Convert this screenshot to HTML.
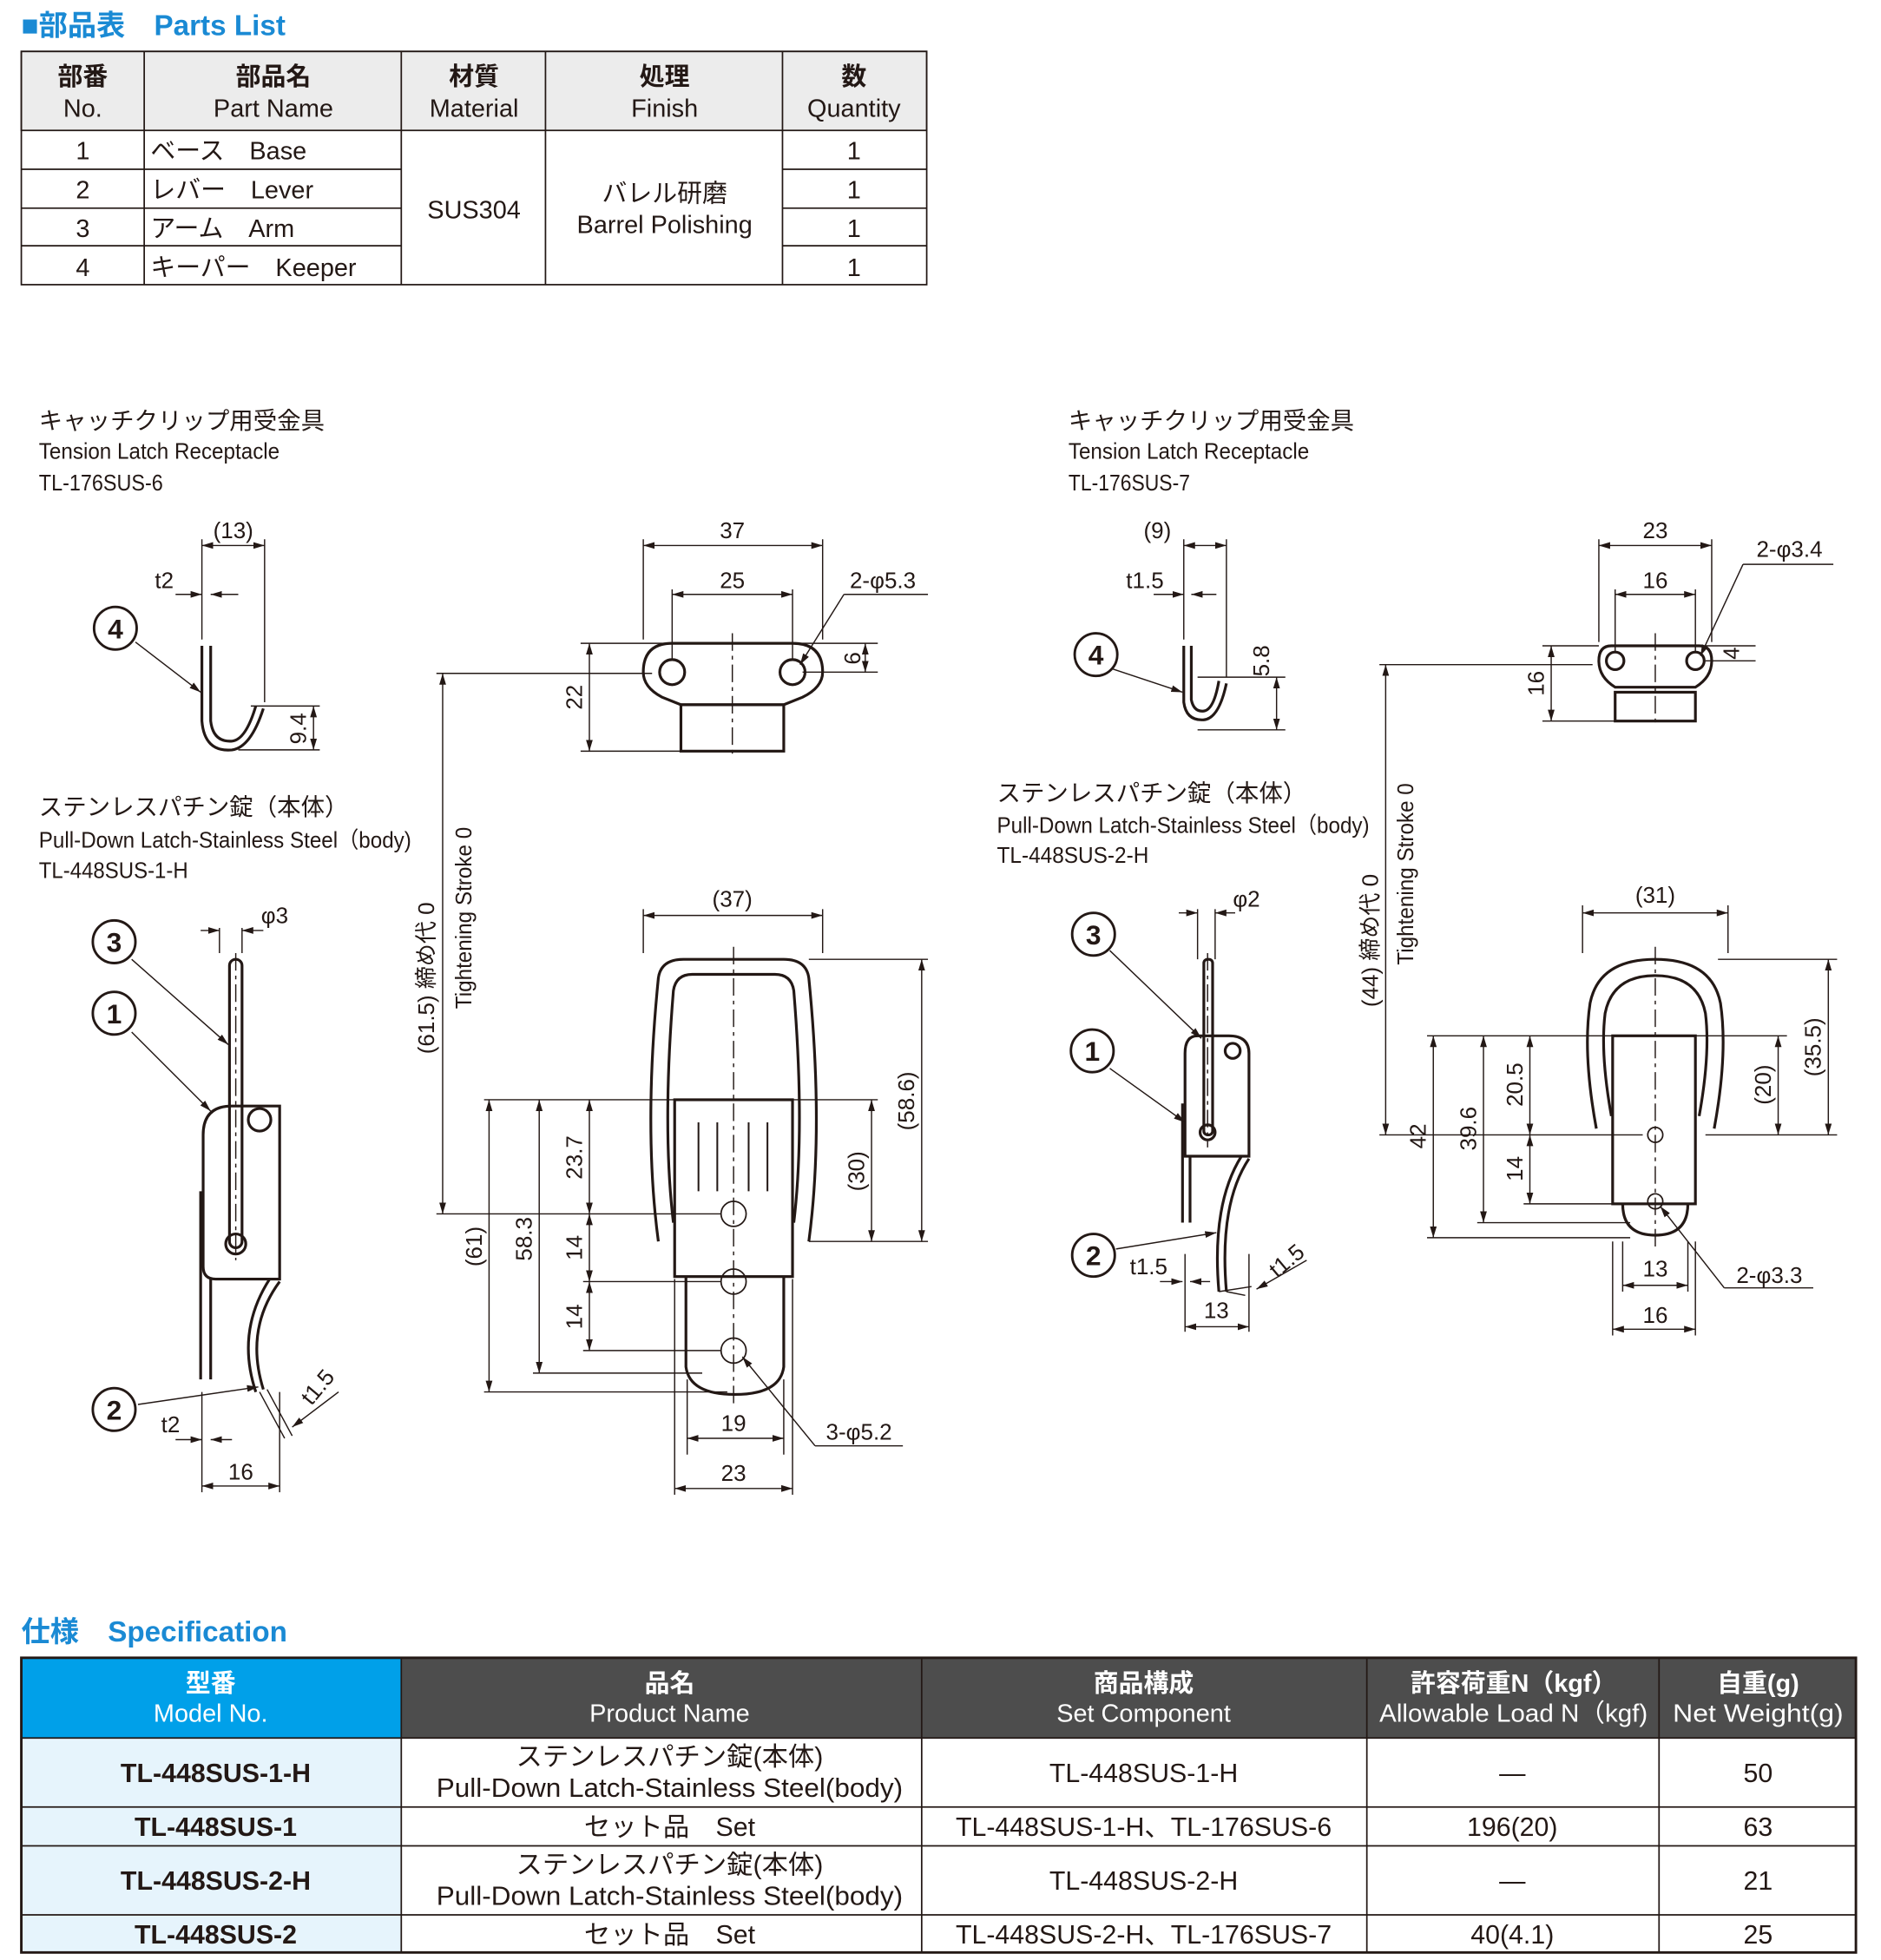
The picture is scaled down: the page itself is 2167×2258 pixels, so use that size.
<!DOCTYPE html>
<html><head><meta charset="utf-8">
<style>
html,body{margin:0;padding:0;background:#fff;}
svg{display:block;}
text{font-family:"Liberation Sans","Noto Sans CJK JP",sans-serif;fill:#231815;}
</style></head>
<body>
<svg width="2167" height="2258" viewBox="0 0 1500 1563" xmlns="http://www.w3.org/2000/svg">
<defs>
<marker id="a" viewBox="0 0 10 10" refX="10" refY="5" markerWidth="9" markerHeight="9" orient="auto-start-reverse" markerUnits="userSpaceOnUse"><path d="M0,2 L10,5 L0,8z" fill="#231815"/></marker>
</defs>
<text x="17" y="28" font-size="23" font-weight="bold" style="fill:#1a8ad4">■部品表　Parts List</text>
<g stroke="#231815" stroke-width="1.2" fill="none">
<rect x="17" y="41" width="722" height="63" fill="#ececec"/>
<rect x="17" y="41" width="722" height="186"/>
<line x1="115" y1="41" x2="115" y2="227"/><line x1="320" y1="41" x2="320" y2="227"/>
<line x1="435" y1="41" x2="435" y2="227"/><line x1="624" y1="41" x2="624" y2="227"/>
<line x1="17" y1="135" x2="320" y2="135"/><line x1="17" y1="166" x2="320" y2="166"/><line x1="17" y1="196" x2="320" y2="196"/>
<line x1="624" y1="135" x2="739" y2="135"/><line x1="624" y1="166" x2="739" y2="166"/><line x1="624" y1="196" x2="739" y2="196"/>
</g>
<g font-size="20" text-anchor="middle">
<text x="66" y="68" font-weight="bold">部番</text><text x="66" y="93">No.</text>
<text x="218" y="68" font-weight="bold">部品名</text><text x="218" y="93">Part Name</text>
<text x="378" y="68" font-weight="bold">材質</text><text x="378" y="93">Material</text>
<text x="530" y="68" font-weight="bold">処理</text><text x="530" y="93">Finish</text>
<text x="681" y="68" font-weight="bold">数</text><text x="681" y="93">Quantity</text>
<text x="66" y="127">1</text><text x="66" y="158">2</text><text x="66" y="189">3</text><text x="66" y="220">4</text>
<text x="681" y="127">1</text><text x="681" y="158">1</text><text x="681" y="189">1</text><text x="681" y="220">1</text>
<text x="378" y="174">SUS304</text>
<text x="530" y="161">バレル研磨</text><text x="530" y="186">Barrel Polishing</text>
</g>
<g font-size="20">
<text x="120" y="127">ベース　Base</text><text x="120" y="158">レバー　Lever</text>
<text x="120" y="189">アーム　Arm</text><text x="120" y="220">キーパー　Keeper</text>
</g>

<g font-size="19">
<text x="31" y="342">キャッチクリップ用受金具</text><text x="31" y="366" font-size="18" textLength="192" lengthAdjust="spacingAndGlyphs">Tension Latch Receptacle</text><text x="31" y="391" font-size="18" textLength="99" lengthAdjust="spacingAndGlyphs">TL-176SUS-6</text>
<text x="852" y="342">キャッチクリップ用受金具</text><text x="852" y="366" font-size="18" textLength="192" lengthAdjust="spacingAndGlyphs">Tension Latch Receptacle</text><text x="852" y="391" font-size="18" textLength="97" lengthAdjust="spacingAndGlyphs">TL-176SUS-7</text>
<text x="31" y="650">ステンレスパチン錠（本体）</text><text x="31" y="676" font-size="18" textLength="297" lengthAdjust="spacingAndGlyphs">Pull-Down Latch-Stainless Steel（body)</text><text x="31" y="700" font-size="18" textLength="119" lengthAdjust="spacingAndGlyphs">TL-448SUS-1-H</text>
<text x="795" y="639">ステンレスパチン錠（本体）</text><text x="795" y="664" font-size="18" textLength="297" lengthAdjust="spacingAndGlyphs">Pull-Down Latch-Stainless Steel（body)</text><text x="795" y="688" font-size="18" textLength="121" lengthAdjust="spacingAndGlyphs">TL-448SUS-2-H</text>
</g>

<g stroke="#231815" fill="none" stroke-width="2.2">
<path d="M161,515 L161,575 Q163,600 185,598 Q200,596 210,565 M168,515 L168,575 Q170,592 185,591 Q196,590 204,563"/>
<path d="M536,513 L632,513 Q656,513 656,536 Q656,548 640,556 L625,562 L543,562 L528,556 Q513,548 513,536 Q513,513 536,513Z"/>
<circle cx="536" cy="536" r="10"/><circle cx="632" cy="536" r="10"/>
<rect x="543" y="562" width="82" height="37"/>
<rect x="183" y="765" width="10" height="230" rx="5"/>
<path d="M223,882 L223,1020 L172,1020 Q162,1020 162,1010 L162,905 Q162,882 185,882 Z"/>
<path d="M160,950 L160,1100 M168,1020 L168,1100"/>
<circle cx="207" cy="893" r="9"/><circle cx="188" cy="992" r="8"/>
<path d="M223,1022 Q195,1060 210,1108 M215,1020 Q188,1062 204,1110"/>
<path d="M525,990 Q513,900 525,780 Q527,765 545,765 L625,765 Q643,765 645,780 Q657,900 645,990"/>
<path d="M537,975 Q528,900 537,790 Q539,777 552,777 L618,777 Q631,777 633,790 Q642,900 633,975"/>
<rect x="538" y="877" width="94" height="141"/>
<path d="M547,1018 L547,1090 Q550,1112 586,1112 Q622,1112 625,1090 L625,1018"/>
<circle cx="585" cy="968" r="10" stroke-width="1.2"/><circle cx="585" cy="1022" r="10" stroke-width="1.2"/><circle cx="585" cy="1077" r="10" stroke-width="1.2"/>
<path d="M557,895 L557,950 M572,895 L572,950 M597,895 L597,950 M612,895 L612,950" stroke-width="1.4"/>
<path d="M944,515 L944,560 Q946,575 960,574 Q972,573 978,545 M950,515 L950,558 Q952,568 960,567 Q968,566 972,543"/>
<path d="M1285,515 L1355,515 Q1365,515 1365,527 Q1365,540 1352,548 L1288,548 Q1275,540 1275,527 Q1275,515 1285,515Z"/>
<circle cx="1288" cy="527" r="7"/><circle cx="1352" cy="527" r="7"/>
<rect x="1288" y="552" width="64" height="23"/>
<rect x="960" y="765" width="7" height="140" rx="3"/>
<path d="M996,922 L996,840 Q996,826 980,826 L955,826 Q945,826 945,840 L945,922 Z"/>
<path d="M943,880 L943,975 M949,922 L949,975"/>
<circle cx="983" cy="838" r="6"/><circle cx="963" cy="903" r="6"/>
<path d="M996,924 Q972,960 978,1030 M990,922 Q966,960 972,1030"/>
<path d="M1273,900 Q1262,840 1268,800 Q1275,765 1320,765 Q1365,765 1372,800 Q1378,840 1367,900"/>
<path d="M1285,890 Q1276,840 1280,808 Q1286,778 1320,778 Q1354,778 1360,808 Q1364,840 1355,890"/>
<rect x="1286" y="826" width="66" height="134"/>
<path d="M1294,960 Q1294,985 1320,985 Q1346,985 1346,960"/>
<circle cx="1320" cy="905" r="6" stroke-width="1.2"/><circle cx="1320" cy="958" r="6" stroke-width="1.2"/>
</g>

<g stroke="#231815" stroke-width="1" stroke-dasharray="14,4,3,4" fill="none">
<line x1="584" y1="505" x2="584" y2="605"/><line x1="585" y1="755" x2="585" y2="1120"/>
<line x1="1320" y1="505" x2="1320" y2="580"/><line x1="1320" y1="755" x2="1320" y2="995"/>
<line x1="188" y1="760" x2="188" y2="1005"/><line x1="963" y1="760" x2="963" y2="915"/>
</g>

<g stroke="#231815" stroke-width="1" fill="none">
<path d="M161,430 L161,510 M211,430 L211,560 M513,430 L513,510 M656,430 L656,510 M536,470 L536,525 M632,470 L632,525 M463,513 L700,513 M463,599 L545,599 M640,536 L700,536 M200,563 L255,563 M190,598 L255,598"/>
<path d="M944,430 L944,510 M978,430 L978,540 M1275,430 L1275,512 M1365,430 L1365,512 M1288,470 L1288,520 M1352,470 L1352,520 M1230,515 L1275,515 M1230,575 L1290,575 M1360,515 L1400,515 M1360,527 L1400,527 M955,540 L1025,540 M955,582 L1025,582"/>
<path d="M513,725 L513,760 M656,725 L656,760 M386,877 L540,877 M386,1110 L580,1110 M425,1095 L560,1095 M465,968 L575,968 M465,1022 L575,1022 M465,1077 L575,1077 M625,877 L700,877 M645,990 L740,990 M645,765 L740,765 M548,1100 L548,1160 M625,1100 L625,1160 M538,1020 L538,1192 M632,1020 L632,1192 M348,968 L540,968 M348,537 L520,537"/>
<path d="M1262,722 L1262,760 M1378,722 L1378,760 M1138,826 L1290,826 M1138,987 L1300,987 M1178,975 L1300,975 M1215,905 L1310,905 M1215,960 L1300,960 M1352,826 L1425,826 M1360,905 L1465,905 M1370,765 L1465,765 M1294,990 L1294,1030 M1346,990 L1346,1030 M1286,990 L1286,1065 M1352,990 L1352,1065 M1100,530 L1270,530 M1100,905 L1280,905"/>
<path d="M161,1110 L161,1190 M223,1110 L223,1190 M945,1000 L945,1062 M996,1000 L996,1062 M175,740 L175,760 M193,740 L193,760 M955,725 L955,765 M969,725 L969,765"/>
</g>
<g stroke="#231815" stroke-width="1" fill="none" marker-start="url(#a)" marker-end="url(#a)">
<line x1="161" y1="435" x2="211" y2="435"/>
<line x1="513" y1="435" x2="656" y2="435"/><line x1="536" y1="474" x2="632" y2="474"/>
<line x1="470" y1="513" x2="470" y2="599"/><line x1="690" y1="513" x2="690" y2="536"/>
<line x1="250" y1="563" x2="250" y2="598"/>
<line x1="353" y1="537" x2="353" y2="968"/>
<line x1="513" y1="730" x2="656" y2="730"/>
<line x1="390" y1="877" x2="390" y2="1110"/><line x1="430" y1="877" x2="430" y2="1095"/>
<line x1="470" y1="877" x2="470" y2="968"/><line x1="470" y1="968" x2="470" y2="1022"/><line x1="470" y1="1022" x2="470" y2="1077"/>
<line x1="695" y1="877" x2="695" y2="990"/><line x1="735" y1="765" x2="735" y2="990"/>
<line x1="548" y1="1147" x2="625" y2="1147"/><line x1="538" y1="1187" x2="632" y2="1187"/>
<line x1="161" y1="1185" x2="223" y2="1185"/>
<line x1="944" y1="435" x2="978" y2="435"/>
<line x1="1275" y1="435" x2="1365" y2="435"/><line x1="1288" y1="474" x2="1352" y2="474"/>
<line x1="1237" y1="515" x2="1237" y2="575"/><line x1="1018" y1="540" x2="1018" y2="582"/>
<line x1="1105" y1="530" x2="1105" y2="905"/>
<line x1="1262" y1="728" x2="1378" y2="728"/>
<line x1="1143" y1="826" x2="1143" y2="987"/><line x1="1183" y1="826" x2="1183" y2="975"/>
<line x1="1220" y1="826" x2="1220" y2="905"/><line x1="1220" y1="905" x2="1220" y2="960"/>
<line x1="1418" y1="826" x2="1418" y2="905"/><line x1="1458" y1="765" x2="1458" y2="905"/>
<line x1="1294" y1="1025" x2="1346" y2="1025"/><line x1="1286" y1="1060" x2="1352" y2="1060"/>
<line x1="945" y1="1058" x2="996" y2="1058"/>
</g>
<g stroke="#231815" stroke-width="1" fill="none" marker-end="url(#a)">
<line x1="140" y1="474" x2="161" y2="474"/><line x1="190" y1="474" x2="168" y2="474"/>
<line x1="920" y1="474" x2="944" y2="474"/><line x1="970" y1="474" x2="950" y2="474"/>
<line x1="160" y1="742" x2="175" y2="742"/><line x1="210" y1="742" x2="193" y2="742"/>
<line x1="940" y1="728" x2="955" y2="728"/><line x1="985" y1="728" x2="969" y2="728"/>
<line x1="140" y1="1148" x2="161" y2="1148"/><line x1="185" y1="1148" x2="168" y2="1148"/>
<line x1="925" y1="1022" x2="943" y2="1022"/><line x1="965" y1="1022" x2="949" y2="1022"/>
<line x1="108" y1="512" x2="160" y2="552"/>
<line x1="105" y1="765" x2="182" y2="833"/><line x1="105" y1="823" x2="168" y2="886"/><line x1="110" y1="1120" x2="206" y2="1106"/>
<line x1="886" y1="533" x2="943" y2="552"/>
<line x1="885" y1="758" x2="958" y2="828"/><line x1="885" y1="852" x2="945" y2="895"/><line x1="890" y1="996" x2="970" y2="983"/>
<line x1="673" y1="474" x2="638" y2="530"/><line x1="1390" y1="450" x2="1356" y2="523"/>
<line x1="650" y1="1153" x2="592" y2="1082"/><line x1="1375" y1="1027" x2="1324" y2="962"/>
<line x1="270" y1="1110" x2="233" y2="1138"/><line x1="1042" y1="1005" x2="1002" y2="1028"/>
</g>
<g stroke="#231815" stroke-width="1"><line x1="673" y1="474" x2="740" y2="474"/><line x1="1390" y1="450" x2="1462" y2="450"/><line x1="650" y1="1153" x2="720" y2="1153"/><line x1="1375" y1="1027" x2="1446" y2="1027"/>
<line x1="213" y1="1108" x2="233" y2="1145"/><line x1="207" y1="1110" x2="227" y2="1147"/><line x1="978" y1="1030" x2="993" y2="1033"/><line x1="972" y1="1030" x2="998" y2="1026"/></g>

<g stroke="#231815" stroke-width="2" fill="#fff">
<circle cx="92" cy="501" r="17"/><circle cx="91" cy="751" r="17"/><circle cx="91" cy="808" r="17"/><circle cx="91" cy="1124" r="17"/>
<circle cx="874" cy="522" r="17"/><circle cx="872" cy="745" r="17"/><circle cx="871" cy="838" r="17"/><circle cx="872" cy="1001" r="17"/>
</g>
<g font-size="22" font-weight="bold" text-anchor="middle">
<text x="92" y="509">4</text><text x="91" y="759">3</text><text x="91" y="816">1</text><text x="91" y="1132">2</text>
<text x="874" y="530">4</text><text x="872" y="753">3</text><text x="871" y="846">1</text><text x="872" y="1009">2</text>
</g>

<g font-size="18" text-anchor="middle">
<text x="186" y="429">(13)</text><text x="131" y="469">t2</text>
<text x="584" y="429">37</text><text x="584" y="469">25</text><text x="704" y="469">2-φ5.3</text>
<text x="584" y="723">(37)</text>
<text x="219" y="736">φ3</text>
<text x="585" y="1141">19</text><text x="585" y="1181">23</text><text x="685" y="1148">3-φ5.2</text>
<text x="136" y="1142">t2</text><text x="192" y="1180">16</text>
<text x="923" y="429">(9)</text><text x="913" y="469">t1.5</text>
<text x="1320" y="429">23</text><text x="1320" y="469">16</text><text x="1427" y="444">2-φ3.4</text>
<text x="1320" y="720">(31)</text><text x="994" y="723">φ2</text>
<text x="1320" y="1018">13</text><text x="1320" y="1055">16</text><text x="1411" y="1023">2-φ3.3</text>
<text x="916" y="1016">t1.5</text><text x="970" y="1051">13</text>
</g>
<g font-size="18" text-anchor="middle">
<text transform="translate(464,556) rotate(-90)">22</text>
<text transform="translate(686,525) rotate(-90)">6</text>
<text transform="translate(244,581) rotate(-90)">9.4</text>
<text transform="translate(346,780) rotate(-90)">(61.5) 締め代 0</text>
<text transform="translate(376,732) rotate(-90)" textLength="145" lengthAdjust="spacingAndGlyphs">Tightening Stroke 0</text>
<text transform="translate(384,994) rotate(-90)">(61)</text>
<text transform="translate(424,988) rotate(-90)">58.3</text>
<text transform="translate(464,923) rotate(-90)">23.7</text>
<text transform="translate(464,995) rotate(-90)">14</text>
<text transform="translate(464,1050) rotate(-90)">14</text>
<text transform="translate(689,934) rotate(-90)">(30)</text>
<text transform="translate(729,878) rotate(-90)">(58.6)</text>
<text transform="translate(1012,527) rotate(-90)">5.8</text>
<text transform="translate(1231,545) rotate(-90)">16</text>
<text transform="translate(1387,521) rotate(-90)">4</text>
<text transform="translate(1099,750) rotate(-90)">(44) 締め代 0</text>
<text transform="translate(1127,697) rotate(-90)" textLength="145" lengthAdjust="spacingAndGlyphs">Tightening Stroke 0</text>
<text transform="translate(1137,906) rotate(-90)">42</text>
<text transform="translate(1177,900) rotate(-90)">39.6</text>
<text transform="translate(1214,865) rotate(-90)">20.5</text>
<text transform="translate(1214,932) rotate(-90)">14</text>
<text transform="translate(1412,865) rotate(-90)">(20)</text>
<text transform="translate(1452,835) rotate(-90)">(35.5)</text>
<text transform="translate(258,1110) rotate(-50)">t1.5</text>
<text transform="translate(1030,1010) rotate(-40)">t1.5</text>
</g>

<text x="17" y="1309" font-size="23" font-weight="bold" style="fill:#1a8ad4">仕様　Specification</text>
<rect x="17" y="1322" width="303" height="64" fill="#00a0e9"/>
<rect x="320" y="1322" width="1160" height="64" fill="#4d4d4d"/>
<rect x="17" y="1386" width="303" height="171" fill="#e6f4fc"/>
<g stroke="#231815" stroke-width="1.2" fill="none">
<rect x="17" y="1322" width="1463" height="235" stroke-width="2"/>
<line x1="320" y1="1322" x2="320" y2="1557"/><line x1="735" y1="1322" x2="735" y2="1557"/>
<line x1="1090" y1="1322" x2="1090" y2="1557"/><line x1="1323" y1="1322" x2="1323" y2="1557"/>
<line x1="17" y1="1386" x2="1480" y2="1386"/><line x1="17" y1="1441" x2="1480" y2="1441"/>
<line x1="17" y1="1472" x2="1480" y2="1472"/><line x1="17" y1="1527" x2="1480" y2="1527"/>
</g>
<g font-size="20" text-anchor="middle">
<text x="168" y="1349" style="fill:#fff" font-weight="bold">型番</text><text x="168" y="1373" style="fill:#fff">Model No.</text>
<text x="534" y="1349" style="fill:#fff" font-weight="bold">品名</text><text x="534" y="1373" style="fill:#fff">Product Name</text>
<text x="912" y="1349" style="fill:#fff" font-weight="bold">商品構成</text><text x="912" y="1373" style="fill:#fff">Set Component</text>
<text x="1207" y="1349" style="fill:#fff" font-weight="bold">許容荷重N（kgf）</text><text x="1207" y="1373" style="fill:#fff" textLength="214" lengthAdjust="spacingAndGlyphs">Allowable Load N（kgf)</text>
<text x="1402" y="1349" style="fill:#fff" font-weight="bold">自重(g)</text><text x="1402" y="1373" style="fill:#fff" textLength="136" lengthAdjust="spacingAndGlyphs">Net Weight(g)</text>
</g>
<g font-size="21" text-anchor="middle">
<text x="172" y="1421" font-weight="bold">TL-448SUS-1-H</text>
<text x="172" y="1464" font-weight="bold">TL-448SUS-1</text>
<text x="172" y="1507" font-weight="bold">TL-448SUS-2-H</text>
<text x="172" y="1550" font-weight="bold">TL-448SUS-2</text>
<text x="534" y="1408">ステンレスパチン錠(本体)</text><text x="534" y="1433" textLength="372" lengthAdjust="spacingAndGlyphs">Pull-Down Latch-Stainless Steel(body)</text>
<text x="534" y="1464">セット品　Set</text>
<text x="534" y="1494">ステンレスパチン錠(本体)</text><text x="534" y="1519" textLength="372" lengthAdjust="spacingAndGlyphs">Pull-Down Latch-Stainless Steel(body)</text>
<text x="534" y="1550">セット品　Set</text>
<text x="912" y="1421">TL-448SUS-1-H</text><text x="912" y="1464">TL-448SUS-1-H、TL-176SUS-6</text>
<text x="912" y="1507">TL-448SUS-2-H</text><text x="912" y="1550">TL-448SUS-2-H、TL-176SUS-7</text>
<text x="1206" y="1421">—</text><text x="1206" y="1464">196(20)</text><text x="1206" y="1507">—</text><text x="1206" y="1550">40(4.1)</text>
<text x="1402" y="1421">50</text><text x="1402" y="1464">63</text><text x="1402" y="1507">21</text><text x="1402" y="1550">25</text>
</g>
</svg>
</body></html>
